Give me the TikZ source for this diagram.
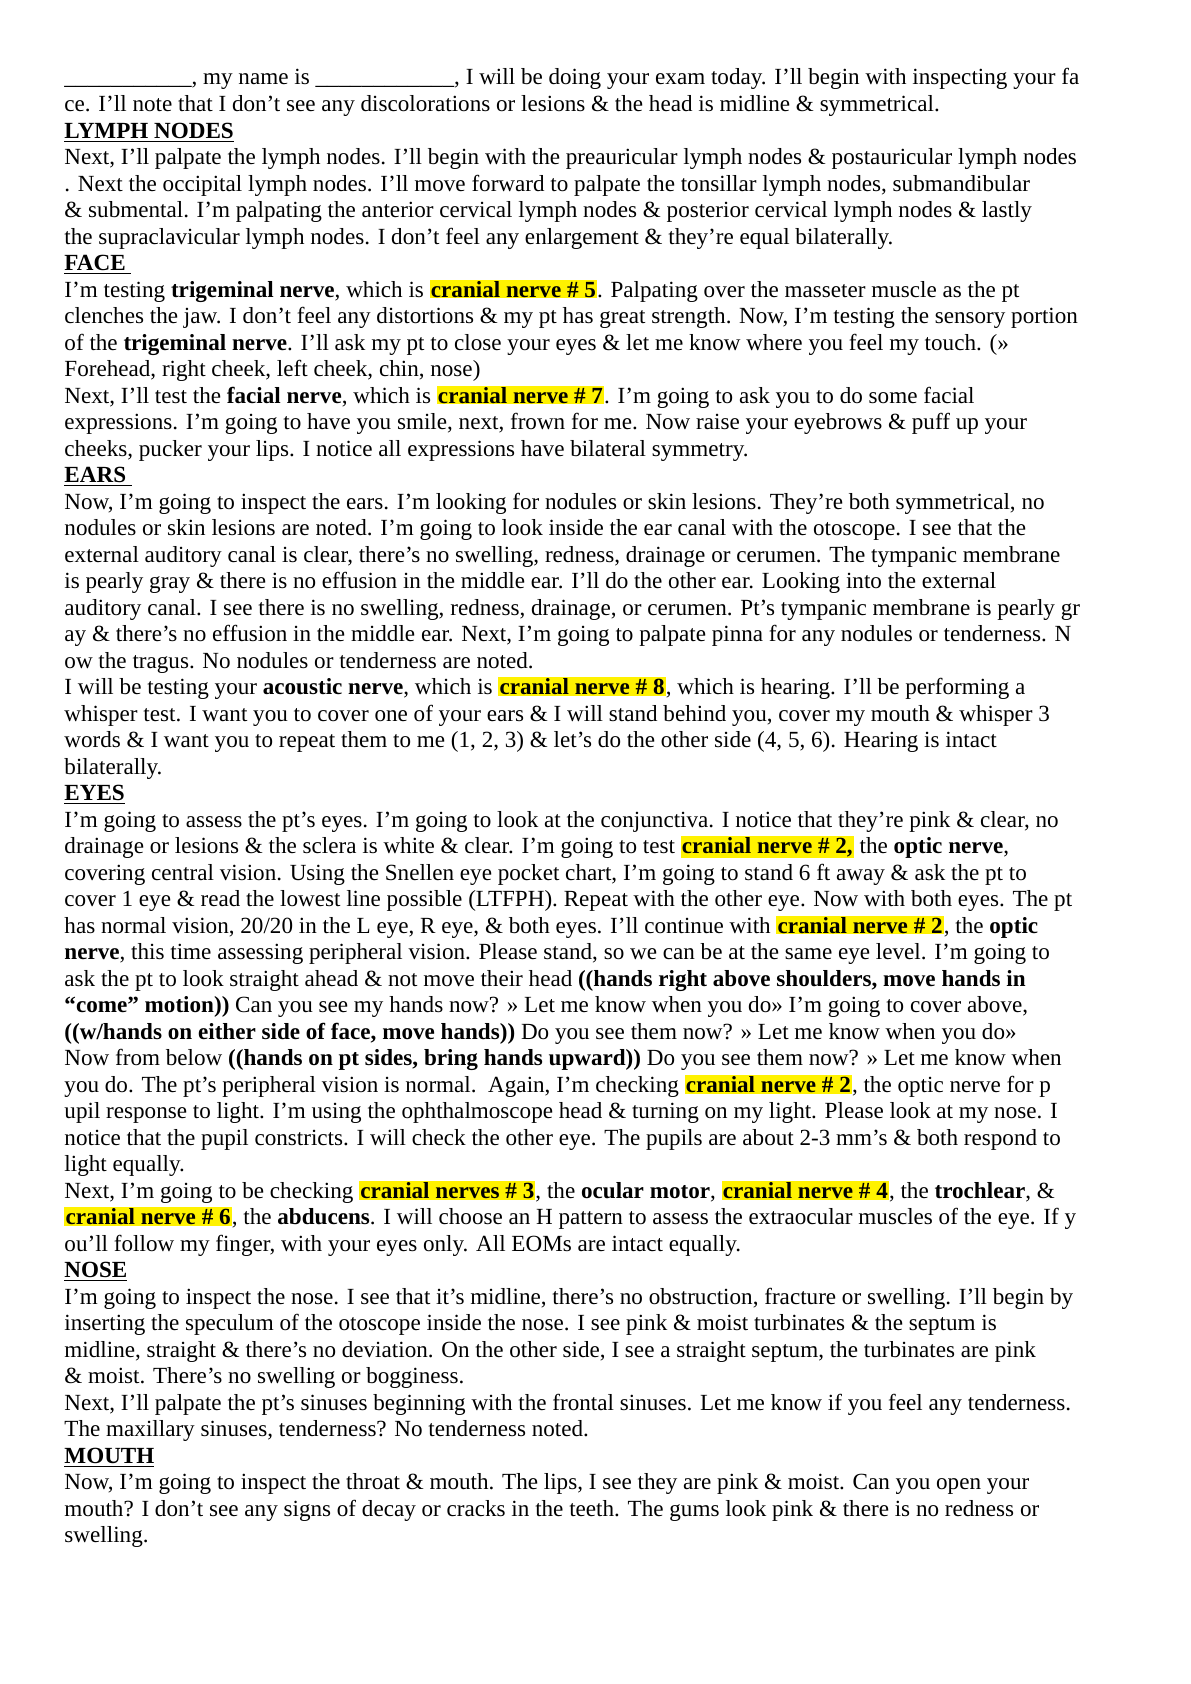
\documentclass[tikz,border=0pt]{standalone}
\usepackage{fontspec}
\setmainfont{Liberation Serif}
\usepackage{xcolor}
\usetikzlibrary{positioning}
\newcommand\cn[1]{{\setlength{\fboxsep}{0.6pt}\colorbox{yellow}{\textbf{#1}}}}
\newcommand\hd[1]{\textbf{\underline{#1}}}
\newcommand\rowy[1]{-1.499-0.4674*(#1-1)}
\tikzset{ln/.style={anchor=base west, inner sep=0pt, font=\fontsize{11.6}{13}\selectfont}}

\begin{document}
\begin{tikzpicture}
\useasboundingbox (0,0) rectangle (21,-29.7);

\node[ln] (l1) at (1.13,{\rowy{1}}) {\_\_\_\_\_\_\_\_\_\_\_, my name is \_\_\_\_\_\_\_\_\_\_\_\_, I will be doing your exam today. I’ll begin with inspecting your fa};
\node[ln] (l2) at (1.13,{\rowy{2}}) {ce. I’ll note that I don't see any discolorations or lesions \& the head is midline \& symmetrical.};
\node[ln] (l3) at (1.13,{\rowy{3}}) {\hd{LYMPH NODES}};
\node[ln] (l4) at (1.13,{\rowy{4}}) {Next, I’ll palpate the lymph nodes. I’ll begin with the preauricular lymph nodes \& postauricular lymph nodes};
\node[ln] (l5) at (1.13,{\rowy{5}}) {. Next the occipital lymph nodes. I'll move forward to palpate the tonsillar lymph nodes, submandibular};
\node[ln] (l6) at (1.13,{\rowy{6}}) {\& submental. I’m palpating the anterior cervical lymph nodes \& posterior cervical lymph nodes \& lastly};
\node[ln] (l7) at (1.13,{\rowy{7}}) {the supraclavicular lymph nodes. I don’t feel any enlargement \& they’re equal bilaterally.};
\node[ln] (l8) at (1.13,{\rowy{8}}) {\hd{FACE\ }};
\node[ln] (l9) at (1.13,{\rowy{9}}) {I’m testing \textbf{trigeminal nerve}, which is \cn{cranial nerve \# 5}. Palpating over the masseter muscle as the pt};
\node[ln] (l10) at (1.13,{\rowy{10}}) {clenches the jaw. I don't feel any distortions \& my pt has great strength. Now, I’m testing the sensory portion};
\node[ln] (l11) at (1.13,{\rowy{11}}) {of the \textbf{trigeminal nerve}. I'll ask my pt to close your eyes \& let me know where you feel my touch. (>>};
\node[ln] (l12) at (1.13,{\rowy{12}}) {Forehead, right cheek, left cheek, chin, nose)};
\node[ln] (l13) at (1.13,{\rowy{13}}) {Next, I’ll test the \textbf{facial nerve}, which is \cn{cranial nerve \# 7}. I'm going to ask you to do some facial};
\node[ln] (l14) at (1.13,{\rowy{14}}) {expressions. I’m going to have you smile, next, frown for me. Now raise your eyebrows \& puff up your};
\node[ln] (l15) at (1.13,{\rowy{15}}) {cheeks, pucker your lips. I notice all expressions have bilateral symmetry.};
\node[ln] (l16) at (1.13,{\rowy{16}}) {\hd{EARS\ }};
\node[ln] (l17) at (1.13,{\rowy{17}}) {Now, I'm going to inspect the ears. I'm looking for nodules or skin lesions. They're both symmetrical, no};
\node[ln] (l18) at (1.13,{\rowy{18}}) {nodules or skin lesions are noted. I'm going to look inside the ear canal with the otoscope. I see that the};
\node[ln] (l19) at (1.13,{\rowy{19}}) {external auditory canal is clear, there's no swelling, redness, drainage or cerumen. The tympanic membrane};
\node[ln] (l20) at (1.13,{\rowy{20}}) {is pearly gray \& there is no effusion in the middle ear. I’ll do the other ear. Looking into the external};
\node[ln] (l21) at (1.13,{\rowy{21}}) {auditory canal. I see there is no swelling, redness, drainage, or cerumen. Pt’s tympanic membrane is pearly gr};
\node[ln] (l22) at (1.13,{\rowy{22}}) {ay \& there's no effusion in the middle ear. Next, I'm going to palpate pinna for any nodules or tenderness. N};
\node[ln] (l23) at (1.13,{\rowy{23}}) {ow the tragus. No nodules or tenderness are noted.};
\node[ln] (l24) at (1.13,{\rowy{24}}) {I will be testing your \textbf{acoustic nerve}, which is \cn{cranial nerve \# 8}, which is hearing. I’ll be performing a};
\node[ln] (l25) at (1.13,{\rowy{25}}) {whisper test. I want you to cover one of your ears \& I will stand behind you, cover my mouth \& whisper 3};
\node[ln] (l26) at (1.13,{\rowy{26}}) {words \& I want you to repeat them to me (1, 2, 3) \& let's do the other side (4, 5, 6). Hearing is intact};
\node[ln] (l27) at (1.13,{\rowy{27}}) {bilaterally.};
\node[ln] (l28) at (1.13,{\rowy{28}}) {\hd{EYES}};
\node[ln] (l29) at (1.13,{\rowy{29}}) {I'm going to assess the pt’s eyes. I'm going to look at the conjunctiva. I notice that they're pink \& clear, no};
\node[ln] (l30) at (1.13,{\rowy{30}}) {drainage or lesions \& the sclera is white \& clear. I'm going to test \cn{cranial nerve \# 2,} the \textbf{optic nerve},};
\node[ln] (l31) at (1.13,{\rowy{31}}) {covering central vision. Using the Snellen eye pocket chart, I'm going to stand 6 ft away \& ask the pt to};
\node[ln] (l32) at (1.13,{\rowy{32}}) {cover 1 eye \& read the lowest line possible (LTFPH). Repeat with the other eye. Now with both eyes. The pt};
\node[ln] (l33) at (1.13,{\rowy{33}}) {has normal vision, 20/20 in the L eye, R eye, \& both eyes. I’ll continue with \cn{cranial nerve \# 2}, the \textbf{optic}};
\node[ln] (l34) at (1.13,{\rowy{34}}) {\textbf{nerve}, this time assessing peripheral vision. Please stand, so we can be at the same eye level. I'm going to};
\node[ln] (l35) at (1.13,{\rowy{35}}) {ask the pt to look straight ahead \& not move their head \textbf{((hands right above shoulders, move hands in}};
\node[ln] (l36) at (1.13,{\rowy{36}}) {\textbf{“come” motion))} Can you see my hands now? >> Let me know when you do>> I'm going to cover above,};
\node[ln] (l37) at (1.13,{\rowy{37}}) {\textbf{((w/hands on either side of face, move hands))} Do you see them now? >> Let me know when you do>>};
\node[ln] (l38) at (1.13,{\rowy{38}}) {Now from below \textbf{((hands on pt sides, bring hands upward))} Do you see them now? >> Let me know when};
\node[ln] (l39) at (1.13,{\rowy{39}}) {you do. The pt’s peripheral vision is normal.\ \ Again, I’m checking \cn{cranial nerve \# 2}, the optic nerve for p};
\node[ln] (l40) at (1.13,{\rowy{40}}) {upil response to light. I'm using the ophthalmoscope head \& turning on my light. Please look at my nose. I};
\node[ln] (l41) at (1.13,{\rowy{41}}) {notice that the pupil constricts. I will check the other eye. The pupils are about 2-3 mm’s \& both respond to};
\node[ln] (l42) at (1.13,{\rowy{42}}) {light equally.};
\node[ln] (l43) at (1.13,{\rowy{43}}) {Next, I'm going to be checking \cn{cranial nerves \# 3}, the \textbf{ocular motor}, \cn{cranial nerve \# 4}, the \textbf{trochlear}, \&};
\node[ln] (l44) at (1.13,{\rowy{44}}) {\cn{cranial nerve \# 6}, the \textbf{abducens}. I will choose an H pattern to assess the extraocular muscles of the eye. If y};
\node[ln] (l45) at (1.13,{\rowy{45}}) {ou’ll follow my finger, with your eyes only. All EOMs are intact equally.};
\node[ln] (l46) at (1.13,{\rowy{46}}) {\hd{NOSE}};
\node[ln] (l47) at (1.13,{\rowy{47}}) {I'm going to inspect the nose. I see that it’s midline, there’s no obstruction, fracture or swelling. I’ll begin by};
\node[ln] (l48) at (1.13,{\rowy{48}}) {inserting the speculum of the otoscope inside the nose. I see pink \& moist turbinates \& the septum is};
\node[ln] (l49) at (1.13,{\rowy{49}}) {midline, straight \& there’s no deviation. On the other side, I see a straight septum, the turbinates are pink};
\node[ln] (l50) at (1.13,{\rowy{50}}) {\& moist. There's no swelling or bogginess.};
\node[ln] (l51) at (1.13,{\rowy{51}}) {Next, I'll palpate the pt's sinuses beginning with the frontal sinuses. Let me know if you feel any tenderness.};
\node[ln] (l52) at (1.13,{\rowy{52}}) {The maxillary sinuses, tenderness? No tenderness noted.};
\node[ln] (l53) at (1.13,{\rowy{53}}) {\hd{MOUTH}};
\node[ln] (l54) at (1.13,{\rowy{54}}) {Now, I'm going to inspect the throat \& mouth. The lips, I see they are pink \& moist. Can you open your};
\node[ln] (l55) at (1.13,{\rowy{55}}) {mouth? I don’t see any signs of decay or cracks in the teeth. The gums look pink \& there is no redness or};
\node[ln] (l56) at (1.13,{\rowy{56}}) {swelling.};

\end{tikzpicture}
\end{document}
